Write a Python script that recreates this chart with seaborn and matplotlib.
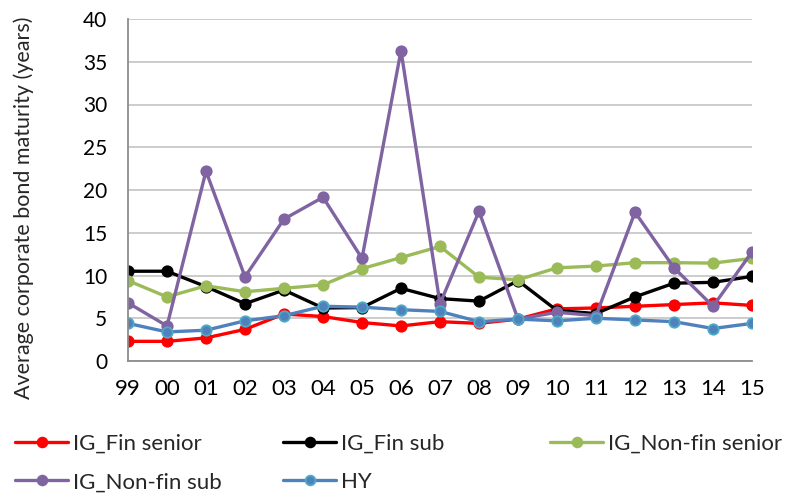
import matplotlib
matplotlib.use("Agg")
import matplotlib.pyplot as plt
import seaborn as sns
import pandas as pd
from matplotlib.lines import Line2D

years = ["99", "00", "01", "02", "03", "04", "05", "06", "07", "08",
         "09", "10", "11", "12", "13", "14", "15"]
ig_fin_senior = [2.3, 2.3, 2.7, 3.7, 5.5, 5.2, 4.5, 4.1, 4.6, 4.4,
                 4.9, 6.1, 6.2, 6.4, 6.6, 6.8, 6.5]
ig_fin_sub = [10.5, 10.5, 8.7, 6.7, 8.3, 6.2, 6.25, 8.5, 7.3, 7.0,
              9.4, 5.9, 5.55, 7.5, 9.1, 9.2, 9.9]
ig_nonfin_senior = [9.4, 7.5, 8.8, 8.1, 8.5, 8.9, 10.8, 12.1, 13.4, 9.8,
                    9.5, 10.9, 11.1, 11.5, 11.5, 11.45, 12.0]
ig_nonfin_sub = [6.8, 4.1, 22.2, 9.85, 16.6, 19.15, 12.0, 36.3, 6.7, 17.5,
                 4.9, 5.7, 5.3, 17.4, 10.9, 6.4, 12.75]
hy = [4.4, 3.4, 3.6, 4.7, 5.3, 6.4, 6.3, 6.0, 5.8, 4.6,
      4.9, 4.7, 5.0, 4.8, 4.6, 3.8, 4.4]

series_names = ["IG_Fin senior", "IG_Fin sub", "IG_Non-fin senior",
                "IG_Non-fin sub", "HY"]
series_values = [ig_fin_senior, ig_fin_sub, ig_nonfin_senior, ig_nonfin_sub, hy]
line_colors = ["#FF0000", "#000000", "#9BBB59", "#8064A2", "#4F81BD"]
edge_colors = ["#FF0000", "#000000", "#9BBB59", "#8064A2", "#4BACC6"]

sns.set_style("white")
plt.rcParams["font.family"] = ["Lato", "DejaVu Sans"]

W, H = 788, 496
fig = plt.figure(figsize=(W / 100, H / 100), dpi=100)
ax = fig.add_axes([128 / W, 1 - 361 / H, (752 - 128) / W, (361 - 19) / H])

handles = {}
for name, vals, lc, ec in zip(series_names, series_values, line_colors, edge_colors):
    df = pd.DataFrame({"x": range(len(years)), "y": vals})
    sns.lineplot(data=df, x="x", y="y", ax=ax, color=lc, linewidth=2.4,
                 marker="o", markersize=7.5, markerfacecolor=lc,
                 markeredgecolor=ec, markeredgewidth=1.3)
    handles[name] = Line2D([], [], color=lc, linewidth=2.4, marker="o",
                           markersize=7, markerfacecolor=lc,
                           markeredgecolor=ec, markeredgewidth=1.3)

ax.set_xlim(0, len(years) - 1)
ax.set_ylim(0, 40)
ax.set_xticks(range(len(years)))
ax.set_xticklabels(years)
ax.set_yticks(range(0, 41, 5))
ax.yaxis.grid(True, color="#BFBFBF", linewidth=1.1)
ax.xaxis.grid(False)
ax.set_axisbelow(True)
for s in ["top", "right"]:
    ax.spines[s].set_visible(False)
for s in ["left", "bottom"]:
    ax.spines[s].set_color("#8C8C8C")
    ax.spines[s].set_linewidth(1.3)
ax.tick_params(axis="both", which="major", direction="out", length=5,
               width=1.3, color="#8C8C8C", labelcolor="#000000")
ax.tick_params(axis="y", pad=10, labelsize=15)
ax.tick_params(axis="x", pad=8, labelsize=16)
ax.set_xlabel("")
ax.set_ylabel("Average corporate bond maturity (years)", fontsize=15.5)
ax.yaxis.set_label_coords((34 - 128) / (752 - 128), (361 - 208) / 342)

cols = [
    (15, ["IG_Fin senior", "IG_Non-fin sub"]),
    (283, ["IG_Fin sub", "HY"]),
    (550, ["IG_Non-fin senior"]),
]
for xpix, names in cols:
    fig.legend([handles[n] for n in names], names,
               loc="upper left",
               bbox_to_anchor=(xpix / W, 1 - 434 / H),
               frameon=False, fontsize=16, borderpad=0,
               borderaxespad=0, handlelength=2.4, handletextpad=0.2,
               labelspacing=0.82, numpoints=1)

fig.savefig("out.png", dpi=100)
